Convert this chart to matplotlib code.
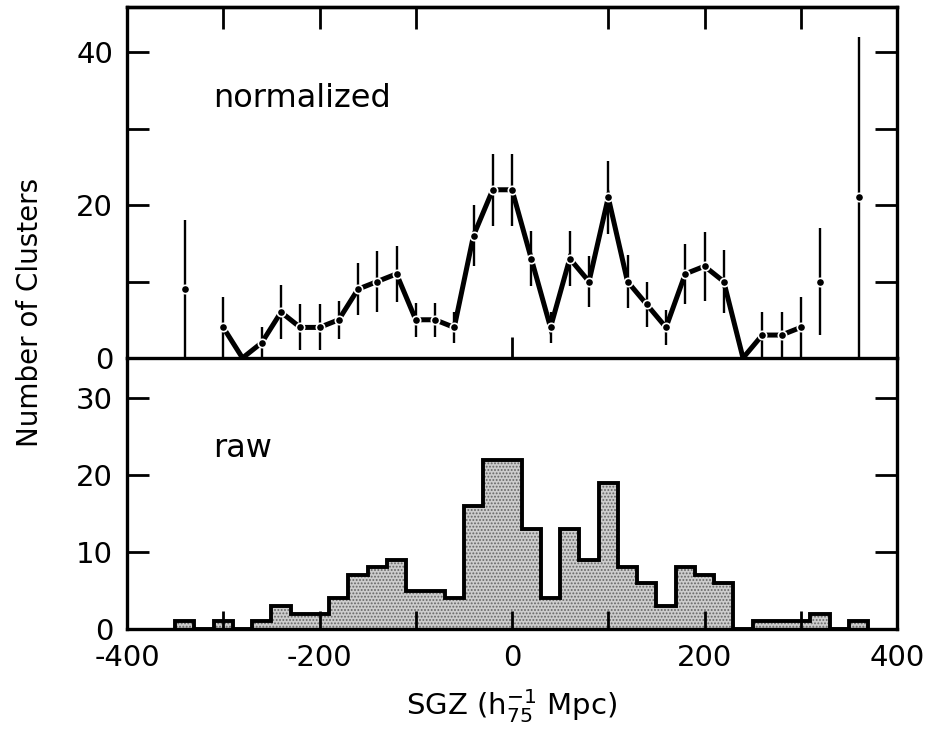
import numpy as np
import matplotlib
matplotlib.use('Agg')
import matplotlib.pyplot as plt

plt.rcParams['font.family'] = ['DejaVu Sans']
plt.rcParams['mathtext.fontset'] = 'dejavusans'
plt.rcParams['axes.unicode_minus'] = False
plt.rcParams['hatch.linewidth'] = 0.9

# ---- data ----
# raw histogram, bins of 20 h^-1 Mpc
bin_centers = list(range(-340, 361, 20))
raw_counts = [1, 0, 1, 0, 1, 3, 2, 2, 4, 7, 8, 9, 5, 5, 4, 16, 22, 22, 13, 4,
              13, 9, 19, 8, 6, 3, 8, 7, 6, 0, 1, 1, 1, 2, 0, 1]

# normalized counts with error bars
norm_sgz = [-340, -300, -280, -260, -240, -220, -200, -180, -160, -140, -120,
            -100, -80, -60, -40, -20, 0, 20, 40, 60, 80, 100, 120, 140, 160,
            180, 200, 220, 240, 260, 280, 300, 320, 360]
norm_counts = [9, 4, 0, 2, 6, 4, 4, 5, 9, 10, 11, 5, 5, 4, 16, 22, 22, 13, 4,
               13, 10, 21, 10, 7, 4, 11, 12, 10, 0, 3, 3, 4, 10, 21]
norm_err = [9, 4, 0, 2, 3.5, 3, 3, 2.5, 3.4, 4, 3.7, 2.2, 2.2, 2, 4, 4.7, 4.7,
            3.6, 2, 3.6, 3.3, 4.8, 3.5, 2.9, 2.3, 3.9, 4.5, 4.1, 0, 3, 3, 4, 7, 21]
connected_range = (-300, 300)

x_major = [-400, -200, 0, 200, 400]
x_minor = [-300, -100, 100, 300]

# ---- figure ----
fig = plt.figure(figsize=(9.31, 7.3), dpi=100)
L, W = 127 / 931, (897 - 127) / 931
ax2 = fig.add_axes([L, 1 - 629 / 730, W, (629 - 358) / 730])
ax1 = fig.add_axes([L, 1 - 358 / 730, W, (358 - 7) / 730])
ax1.set_zorder(3)
ax1.patch.set_visible(False)

for ax in (ax1, ax2):
    for s in ax.spines.values():
        s.set_linewidth(2.4)
    ax.set_xlim(-400, 400)

# top panel
xs = np.array(norm_sgz, dtype=float)
ys = np.array(norm_counts, dtype=float)
es = np.array(norm_err, dtype=float)
conn = (xs >= connected_range[0]) & (xs <= connected_range[1])
ax1.plot(xs[conn], ys[conn], color='k', lw=3.6, solid_joinstyle='miter', zorder=2)
has_err = es > 0
ax1.errorbar(xs[has_err], ys[has_err], yerr=es[has_err], fmt='none',
             ecolor='k', elinewidth=1.7, capsize=0, zorder=3)
dots = ys > 0
ax1.plot(xs[dots], ys[dots], 'o', ms=6, mfc='k', mec='white', mew=1.2, zorder=4)
ax1.set_ylim(0, 45.9)
ax1.set_yticks([0, 20, 40])
ax1.set_yticks([10, 30], minor=True)
ax1.tick_params(axis='y', which='both', direction='in', length=16, width=2,
                left=True, right=True, labelsize=21, pad=10)
ax1.set_xticks([0])
ax1.set_xticks([], minor=True)
ax1.tick_params(axis='x', which='both', direction='in', length=15, width=2,
                bottom=True, top=False, labelbottom=False)
sec = ax1.secondary_xaxis('top')
sec.set_xticks(x_minor + [-200, 200])
sec.tick_params(direction='in', length=16, width=2, labeltop=False)
sec.spines['top'].set_linewidth(2.4)
ax1.text(-311, 32.8, 'normalized', fontsize=23, va='baseline', ha='left')

# bottom panel
centers = np.array(bin_centers, dtype=float)
edges = np.append(centers - 10, centers[-1] + 10)
ax2.stairs(raw_counts, edges, baseline=0, fill=True, facecolor='#cdcdcd',
           hatch='.....', edgecolor='#666666', linewidth=0, zorder=1)
ax2.stairs(raw_counts, edges, baseline=0, color='k', lw=2.8, zorder=2)
ax2.set_ylim(0, 35.2)
ax2.set_yticks([0, 10, 20, 30])
ax2.tick_params(axis='y', which='both', direction='in', length=16, width=2,
                left=True, right=True, labelsize=21, pad=10)
ax2.set_xticks(x_major)
ax2.set_xticks(x_minor, minor=True)
ax2.set_xticklabels([str(v) for v in x_major])
ax2.tick_params(axis='x', which='both', direction='in', length=13, width=2,
                bottom=True, top=False, labelsize=21, pad=11)
ax2.spines['top'].set_visible(False)
ax2.text(-311, 22.4, 'raw', fontsize=23, va='baseline', ha='left')

fig.text(512 / 931, 1 - 715 / 730, r'SGZ ($\mathregular{h^{-1}_{75}}$ Mpc)',
         ha='center', va='baseline', fontsize=21)
fig.text(30 / 931, 1 - 312 / 730, 'Number of Clusters', rotation=90,
         ha='center', va='center', fontsize=20)

fig.savefig('out.png', dpi=100)
